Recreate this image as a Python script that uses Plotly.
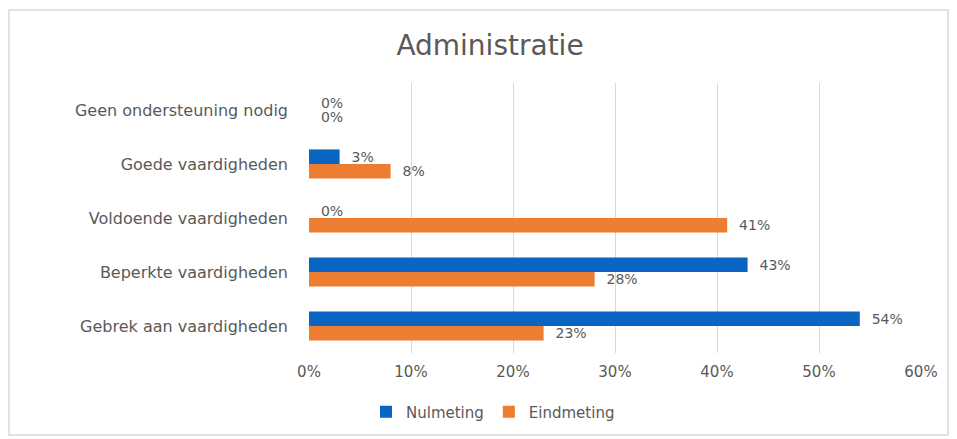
import plotly.graph_objects as go

categories = ["Geen ondersteuning nodig", "Goede vaardigheden", "Voldoende vaardigheden",
              "Beperkte vaardigheden", "Gebrek aan vaardigheden"]
nulmeting = [0, 3, 0, 43, 54]
eindmeting = [0, 8, 41, 28, 23]
series_names = ["Nulmeting", "Eindmeting"]
tick_vals = [0, 10, 20, 30, 40, 50, 60]
tick_text = ["0%", "10%", "20%", "30%", "40%", "50%", "60%"]

BLUE = "#0A64C2"
ORANGE = "#ED7D31"
GRAY = "#595959"
FONT = "DejaVu Sans"

fig = go.Figure()
for name, vals, col in [(series_names[0], nulmeting, BLUE), (series_names[1], eindmeting, ORANGE)]:
    fig.add_trace(go.Bar(
        y=categories, x=vals, orientation="h", name=name,
        marker=dict(color=col, line=dict(width=0)),
        text=[f"  {v}%" for v in vals], textposition="outside",
        textfont=dict(family=FONT, size=14, color=GRAY),
        constraintext="none",
        cliponaxis=False,
    ))

# page body has an 8px margin, so figure coordinates = screen - 8
OFF = 8
W, H = 941, 429
L, R, T, B = 309 - OFF, 28, 83 - OFF, 84
pw = W - L - R
ph = H - T - B

fig.update_layout(
    width=W, height=H,
    margin=dict(l=L, r=R, t=T, b=B, autoexpand=False),
    paper_bgcolor="white", plot_bgcolor="white",
    barmode="group", bargap=0.46, bargroupgap=0,
    font=dict(family=FONT, color=GRAY, size=14),
    title=dict(text="Administratie", x=(490 - OFF) / W, xanchor="center", xref="container",
               y=1 - (45 - OFF) / H, yanchor="middle", yref="container",
               font=dict(family=FONT, size=28, color=GRAY)),
    xaxis=dict(range=[0, 60], tickvals=tick_vals, ticktext=tick_text,
               showgrid=True, gridcolor="#D9D9D9", gridwidth=1,
               zeroline=False, showline=False, ticks="",
               tickfont=dict(family=FONT, size=15, color=GRAY), ticklabelstandoff=8),
    yaxis=dict(autorange="reversed", showgrid=False, zeroline=False, showline=False,
               ticks="", tickfont=dict(family=FONT, size=16, color=GRAY),
               ticklabelstandoff=20),
    showlegend=True,
    legend=dict(orientation="h", x=(493 - OFF - L) / pw, xanchor="center",
                y=-(412 - OFF - (T + ph)) / ph, yanchor="middle",
                font=dict(family=FONT, size=15, color=GRAY)),
    shapes=[dict(type="rect", xref="paper", yref="paper",
                 x0=(1 - L) / pw, x1=(W - 1 - L) / pw,
                 y0=-(H - 2 - (T + ph)) / ph, y1=1 + (T - 2) / ph,
                 line=dict(color="#D9D9D9", width=1.5), fillcolor="rgba(0,0,0,0)", layer="below")],
)

fig.write_html("out.html")
